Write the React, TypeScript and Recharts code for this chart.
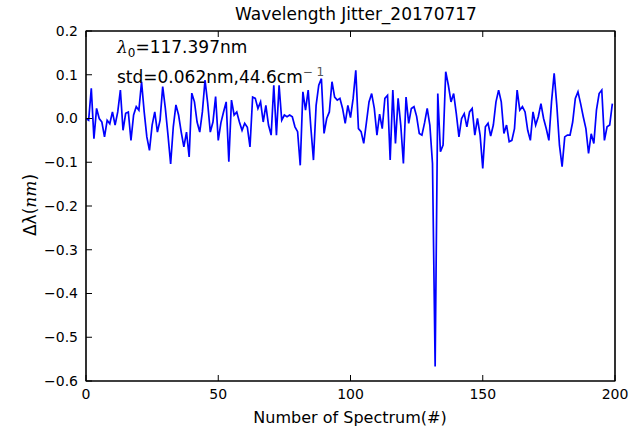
import React from 'react';
import { LineChart, Line, XAxis, YAxis, ReferenceArea } from 'recharts';

// wavelength offset per spectrum, in nm
const jitter: number[] = [
  0.000, -0.004, 0.069, -0.046, 0.023, 0.000, -0.008, -0.042, -0.004, -0.012,
  0.015, -0.015, 0.015, 0.065, -0.027, 0.012, 0.015, -0.050, 0.008, 0.027,
  0.019, 0.084, 0.015, -0.042, -0.073, -0.015, 0.015, -0.031, -0.004, 0.073,
  0.023, -0.038, -0.104, -0.019, 0.031, 0.008, -0.031, -0.065, -0.031, -0.088,
  0.058, 0.038, -0.008, -0.031, 0.015, 0.088, 0.035, -0.031, -0.008, 0.050,
  -0.050, -0.010, 0.015, 0.038, -0.099, 0.042, 0.008, 0.015, -0.008, -0.027,
  -0.011, -0.020, -0.065, 0.049, 0.046, 0.023, 0.038, -0.008, 0.030, -0.015,
  -0.038, 0.076, -0.038, 0.076, -0.004, 0.008, 0.004, 0.008, 0.004, -0.019,
  -0.030, -0.107, 0.061, 0.019, 0.065, -0.020, -0.095, 0.030, 0.076, 0.091,
  -0.034, 0.000, 0.015, 0.084, 0.049, 0.042, 0.046, 0.023, -0.011, 0.030,
  0.002, 0.046, 0.110, -0.023, -0.030, -0.057, -0.010, 0.038, 0.057, 0.023,
  -0.038, 0.010, -0.023, 0.046, 0.053, -0.095, 0.065, -0.057, 0.046, -0.015,
  -0.103, 0.049, -0.011, 0.023, 0.027, 0.005, -0.034, -0.038, -0.010, 0.023,
  -0.015, -0.103, -0.567, 0.057, -0.076, -0.061, 0.107, 0.076, 0.038, 0.057,
  0.011, -0.042, 0.000, 0.011, -0.019, 0.015, 0.023, -0.038, 0.000, -0.038,
  -0.114, -0.019, -0.011, -0.040, -0.015, 0.038, 0.065, 0.038, -0.034, -0.015,
  -0.053, -0.050, -0.023, 0.065, 0.019, 0.027, 0.015, -0.027, -0.050, 0.015,
  -0.015, 0.004, 0.034, 0.000, -0.023, -0.050, 0.038, 0.103, 0.030, -0.061,
  -0.110, -0.042, -0.038, -0.038, -0.008, 0.046, 0.061, 0.034, 0.004, -0.023,
  -0.080, -0.035, -0.057, 0.020, 0.057, 0.065, -0.050, -0.019, -0.015, 0.034,
];

const xTicks = [0, 50, 100, 150, 200];
const yTicks = [-0.6, -0.5, -0.4, -0.3, -0.2, -0.1, 0.0, 0.1, 0.2];

const data = jitter.map((v, i) => ({ n: i, dl: v }));

const font = '"DejaVu Sans", sans-serif';
const fmtY = (v: number) => v.toFixed(1).replace('-', '\u2212');

// tick marks only, no labels (top and right edges of the box)
const NoLabel = () => <g />;

export default function App() {
  return (
    <div style={{ position: 'absolute', left: 0, top: 0, width: 632, height: 429, background: '#fff', fontFamily: font }}>
      <LineChart width={632} height={429} data={data} margin={{ top: 30, right: 16, bottom: 0, left: 0 }}>
        <XAxis
          dataKey="n"
          type="number"
          domain={[0, 200]}
          ticks={xTicks}
          tickSize={-6}
          tickMargin={14}
          height={48}
          stroke="#000"
          tick={{ fill: '#000', fontSize: 14, fontFamily: font }}
        />
        <XAxis xAxisId="top" orientation="top" dataKey="n" type="number" domain={[0, 200]} ticks={xTicks} tickSize={-6} height={1} stroke="#000" tick={<NoLabel />} />
        <YAxis
          domain={[-0.6, 0.2]}
          ticks={yTicks}
          tickFormatter={fmtY}
          tickSize={-6}
          tickMargin={14}
          width={86}
          stroke="#000"
          tick={{ fill: '#000', fontSize: 14, fontFamily: font }}
        />
        <YAxis yAxisId="right" orientation="right" domain={[-0.6, 0.2]} ticks={yTicks} tickSize={-6} width={1} stroke="#000" tick={<NoLabel />} />
        <ReferenceArea x1={0} x2={200} y1={-0.6} y2={0.2} fill="none" stroke="#000" strokeWidth={1.2} ifOverflow="visible" />
        <Line type="linear" dataKey="dl" stroke="#0000ff" strokeWidth={1.7} dot={false} isAnimationActive={false} />
      </LineChart>

      <div style={{ position: 'absolute', left: 356, top: 4, transform: 'translateX(-50%)', fontSize: 17, lineHeight: '20px', whiteSpace: 'nowrap' }}>
        Wavelength Jitter_20170717
      </div>
      <div style={{ position: 'absolute', left: 117, top: 37, fontSize: 17, lineHeight: '20px', whiteSpace: 'nowrap' }}>
        <span style={{ fontFamily: '"DejaVu Serif", serif', fontStyle: 'italic' }}>λ</span>
        <sub style={{ fontSize: 12 }}>0</sub>=117.397nm
      </div>
      <div style={{ position: 'absolute', left: 117, top: 62, fontSize: 17, lineHeight: '20px', whiteSpace: 'nowrap' }}>
        std=0.062nm,44.6cm<sup style={{ fontSize: 12, color: '#555' }}>{'\u2212 1'}</sup>
      </div>
      <div style={{ position: 'absolute', left: 30, top: 205, transform: 'translate(-50%, -50%) rotate(-90deg)', fontSize: 17, lineHeight: '20px', whiteSpace: 'nowrap' }}>
        Δλ(<span style={{ fontFamily: '"DejaVu Serif", serif', fontStyle: 'italic' }}>nm</span>)
      </div>
      <div style={{ position: 'absolute', left: 350, top: 408, transform: 'translateX(-50%)', fontSize: 16, lineHeight: '20px', whiteSpace: 'nowrap' }}>
        Number of Spectrum(#)
      </div>
    </div>
  );
}
